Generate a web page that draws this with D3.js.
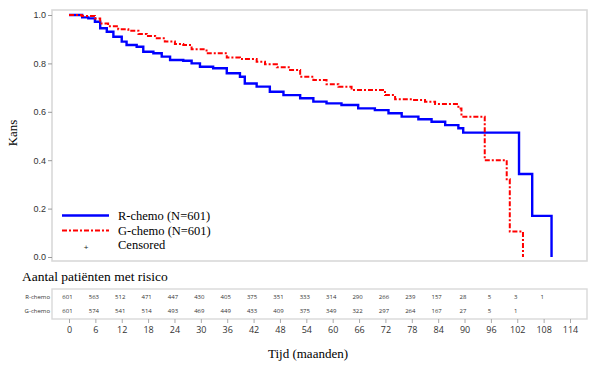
<!DOCTYPE html>
<html><head><meta charset="utf-8">
<script src="https://cdn.jsdelivr.net/npm/d3@7"></script>
<style>body{margin:0;background:#fff}svg{display:block}</style>
</head><body>
<svg id="c" width="605" height="368"></svg>
<script>
// ---- data ----
const rTime = [0,3,4.4,5.9,7.1,8.6,10.1,12,13.1,15.4,16.9,19.2,21.1,23,26,27.9,29.8,32.8,35.9,38.9,40,42.7,45.7,48.8,52.6,55.6,58.6,62,65.8,69.6,72.7,75.7,79.5,82.5,85.6,88.6,89.7,102.4,105.4,109.8];
const rSurv = [1,0.99,0.986,0.972,0.945,0.931,0.91,0.89,0.876,0.869,0.848,0.842,0.828,0.814,0.811,0.80,0.786,0.78,0.759,0.745,0.717,0.704,0.683,0.669,0.656,0.642,0.635,0.628,0.614,0.607,0.594,0.58,0.569,0.559,0.545,0.532,0.514,0.343,0.17,0];
const gTime = [0,2.9,5.9,7.1,8.9,11.2,13.5,15.8,17.7,19.6,21.8,24.1,26,27.9,31.3,35.9,38.9,42.7,44.6,47.3,50.3,52.6,55.6,58.6,61.3,64.3,71.9,74.2,78,81,83.3,88.6,89.3,94.6,99.6,100.3,103.3];
const gSurv = [1,0.996,0.986,0.965,0.954,0.941,0.935,0.921,0.913,0.904,0.89,0.88,0.876,0.858,0.842,0.824,0.818,0.807,0.796,0.784,0.773,0.745,0.731,0.714,0.704,0.69,0.669,0.652,0.649,0.642,0.632,0.614,0.58,0.40,0.321,0.105,0];
const yTicks = [0,0.2,0.4,0.6,0.8,1.0];
const xTicks = [0,6,12,18,24,30,36,42,48,54,60,66,72,78,84,90,96,102,108,114];
const riskR = [601,563,512,471,447,430,405,375,351,333,314,290,266,239,157,28,5,3,1];
const riskG = [601,574,541,514,493,469,449,433,409,375,349,322,297,264,167,27,5,1];
const seriesNames = ["R-chemo","G-chemo"];
const legendLabels = ["R-chemo (N=601)","G-chemo (N=601)","Censored"];

const svg = d3.select("#c");
const x = d3.scaleLinear().domain([0,114]).range([69,570]);
const y = d3.scaleLinear().domain([0,1]).range([257,15]);
const frame = {l:52,t:10,r:587,b:261};
const gridCol = "#d9d9d9";

// plot frame
svg.append("rect").attr("x",frame.l).attr("y",frame.t)
  .attr("width",frame.r-frame.l).attr("height",frame.b-frame.t)
  .attr("fill","none").attr("stroke",gridCol).attr("stroke-width",1.6);

// y axis
const ya = svg.append("g").attr("transform",`translate(${frame.l},0)`)
  .call(d3.axisLeft(y).tickValues(yTicks).tickFormat(d3.format(".1f")).tickSize(4).tickPadding(2));
ya.select(".domain").remove();
ya.selectAll("line").attr("stroke","#999");
ya.selectAll("text").attr("font-family","Liberation Sans, Arial, sans-serif").attr("font-size",9).attr("fill","#333");

svg.append("text").attr("transform","translate(17,133) rotate(-90)")
  .attr("text-anchor","middle").attr("font-family","Liberation Serif, Times New Roman, serif")
  .attr("font-size",13).attr("fill","#000").text("Kans");

// curves
const line = d3.line().x(d=>x(d[0])).y(d=>y(d[1])).curve(d3.curveStepAfter);
const rData = rTime.map((t,i)=>[t,rSurv[i]]);
const gData = gTime.map((t,i)=>[t,gSurv[i]]);
svg.append("path").attr("d",line(rData)).attr("fill","none").attr("stroke","#0000ff").attr("stroke-width",2.4);
svg.append("path").attr("d",line(gData)).attr("fill","none").attr("stroke","#ff0000").attr("stroke-width",2)
  .attr("stroke-dasharray","5,2,2,2");

// legend
const lf = "Liberation Serif, Times New Roman, serif";
svg.append("line").attr("x1",62).attr("x2",109).attr("y1",215.5).attr("y2",215.5).attr("stroke","#0000ff").attr("stroke-width",2.6);
svg.append("line").attr("x1",62).attr("x2",109).attr("y1",230.5).attr("y2",230.5).attr("stroke","#ff0000").attr("stroke-width",2).attr("stroke-dasharray","5,2,2,2");
svg.append("text").attr("x",86).attr("y",249.5).attr("text-anchor","middle").attr("font-family","Liberation Sans, sans-serif").attr("font-size",8).attr("fill","#222").text("+");
[[215.5,0],[230.5,1],[245,2]].forEach(([yy,i])=>{
  svg.append("text").attr("x",118).attr("y",yy).attr("dy","0.35em").attr("font-family",lf).attr("font-size",12.5).attr("fill","#000").text(legendLabels[i]);
});

// risk table
svg.append("text").attr("x",22).attr("y",281).attr("font-family",lf).attr("font-size",13.5).attr("fill","#000").text("Aantal patiënten met risico");
svg.append("rect").attr("x",frame.l).attr("y",289).attr("width",frame.r-frame.l).attr("height",30)
  .attr("fill","none").attr("stroke",gridCol).attr("stroke-width",1.4);
const tf = "Open Sans, DejaVu Sans, sans-serif";
[[riskR,296.5,0],[riskG,310.5,1]].forEach(([arr,yy,si])=>{
  svg.append("text").attr("x",50).attr("y",yy).attr("dy","0.35em").attr("text-anchor","end")
    .attr("font-family",tf).attr("font-size",6).attr("fill","#333").text(seriesNames[si]);
  arr.forEach((v,i)=>{
    svg.append("text").attr("x",x(xTicks[i])-1.5).attr("y",yy).attr("dy","0.35em").attr("text-anchor","middle")
      .attr("font-family",tf).attr("font-size",6).attr("fill","#333").text(v);
  });
});

// x axis
const xa = svg.append("g").attr("transform","translate(0,319)")
  .call(d3.axisBottom(x).tickValues(xTicks).tickFormat(d3.format("d")).tickSize(4).tickPadding(4));
xa.select(".domain").remove();
xa.selectAll("line").attr("stroke","#aaa");
xa.selectAll("text").attr("font-family",tf).attr("font-size",9).attr("fill","#333");

svg.append("text").attr("x",308).attr("y",358).attr("text-anchor","middle").attr("font-family",lf).attr("font-size",13).attr("fill","#000").text("Tijd (maanden)");
</script>
</body></html>
